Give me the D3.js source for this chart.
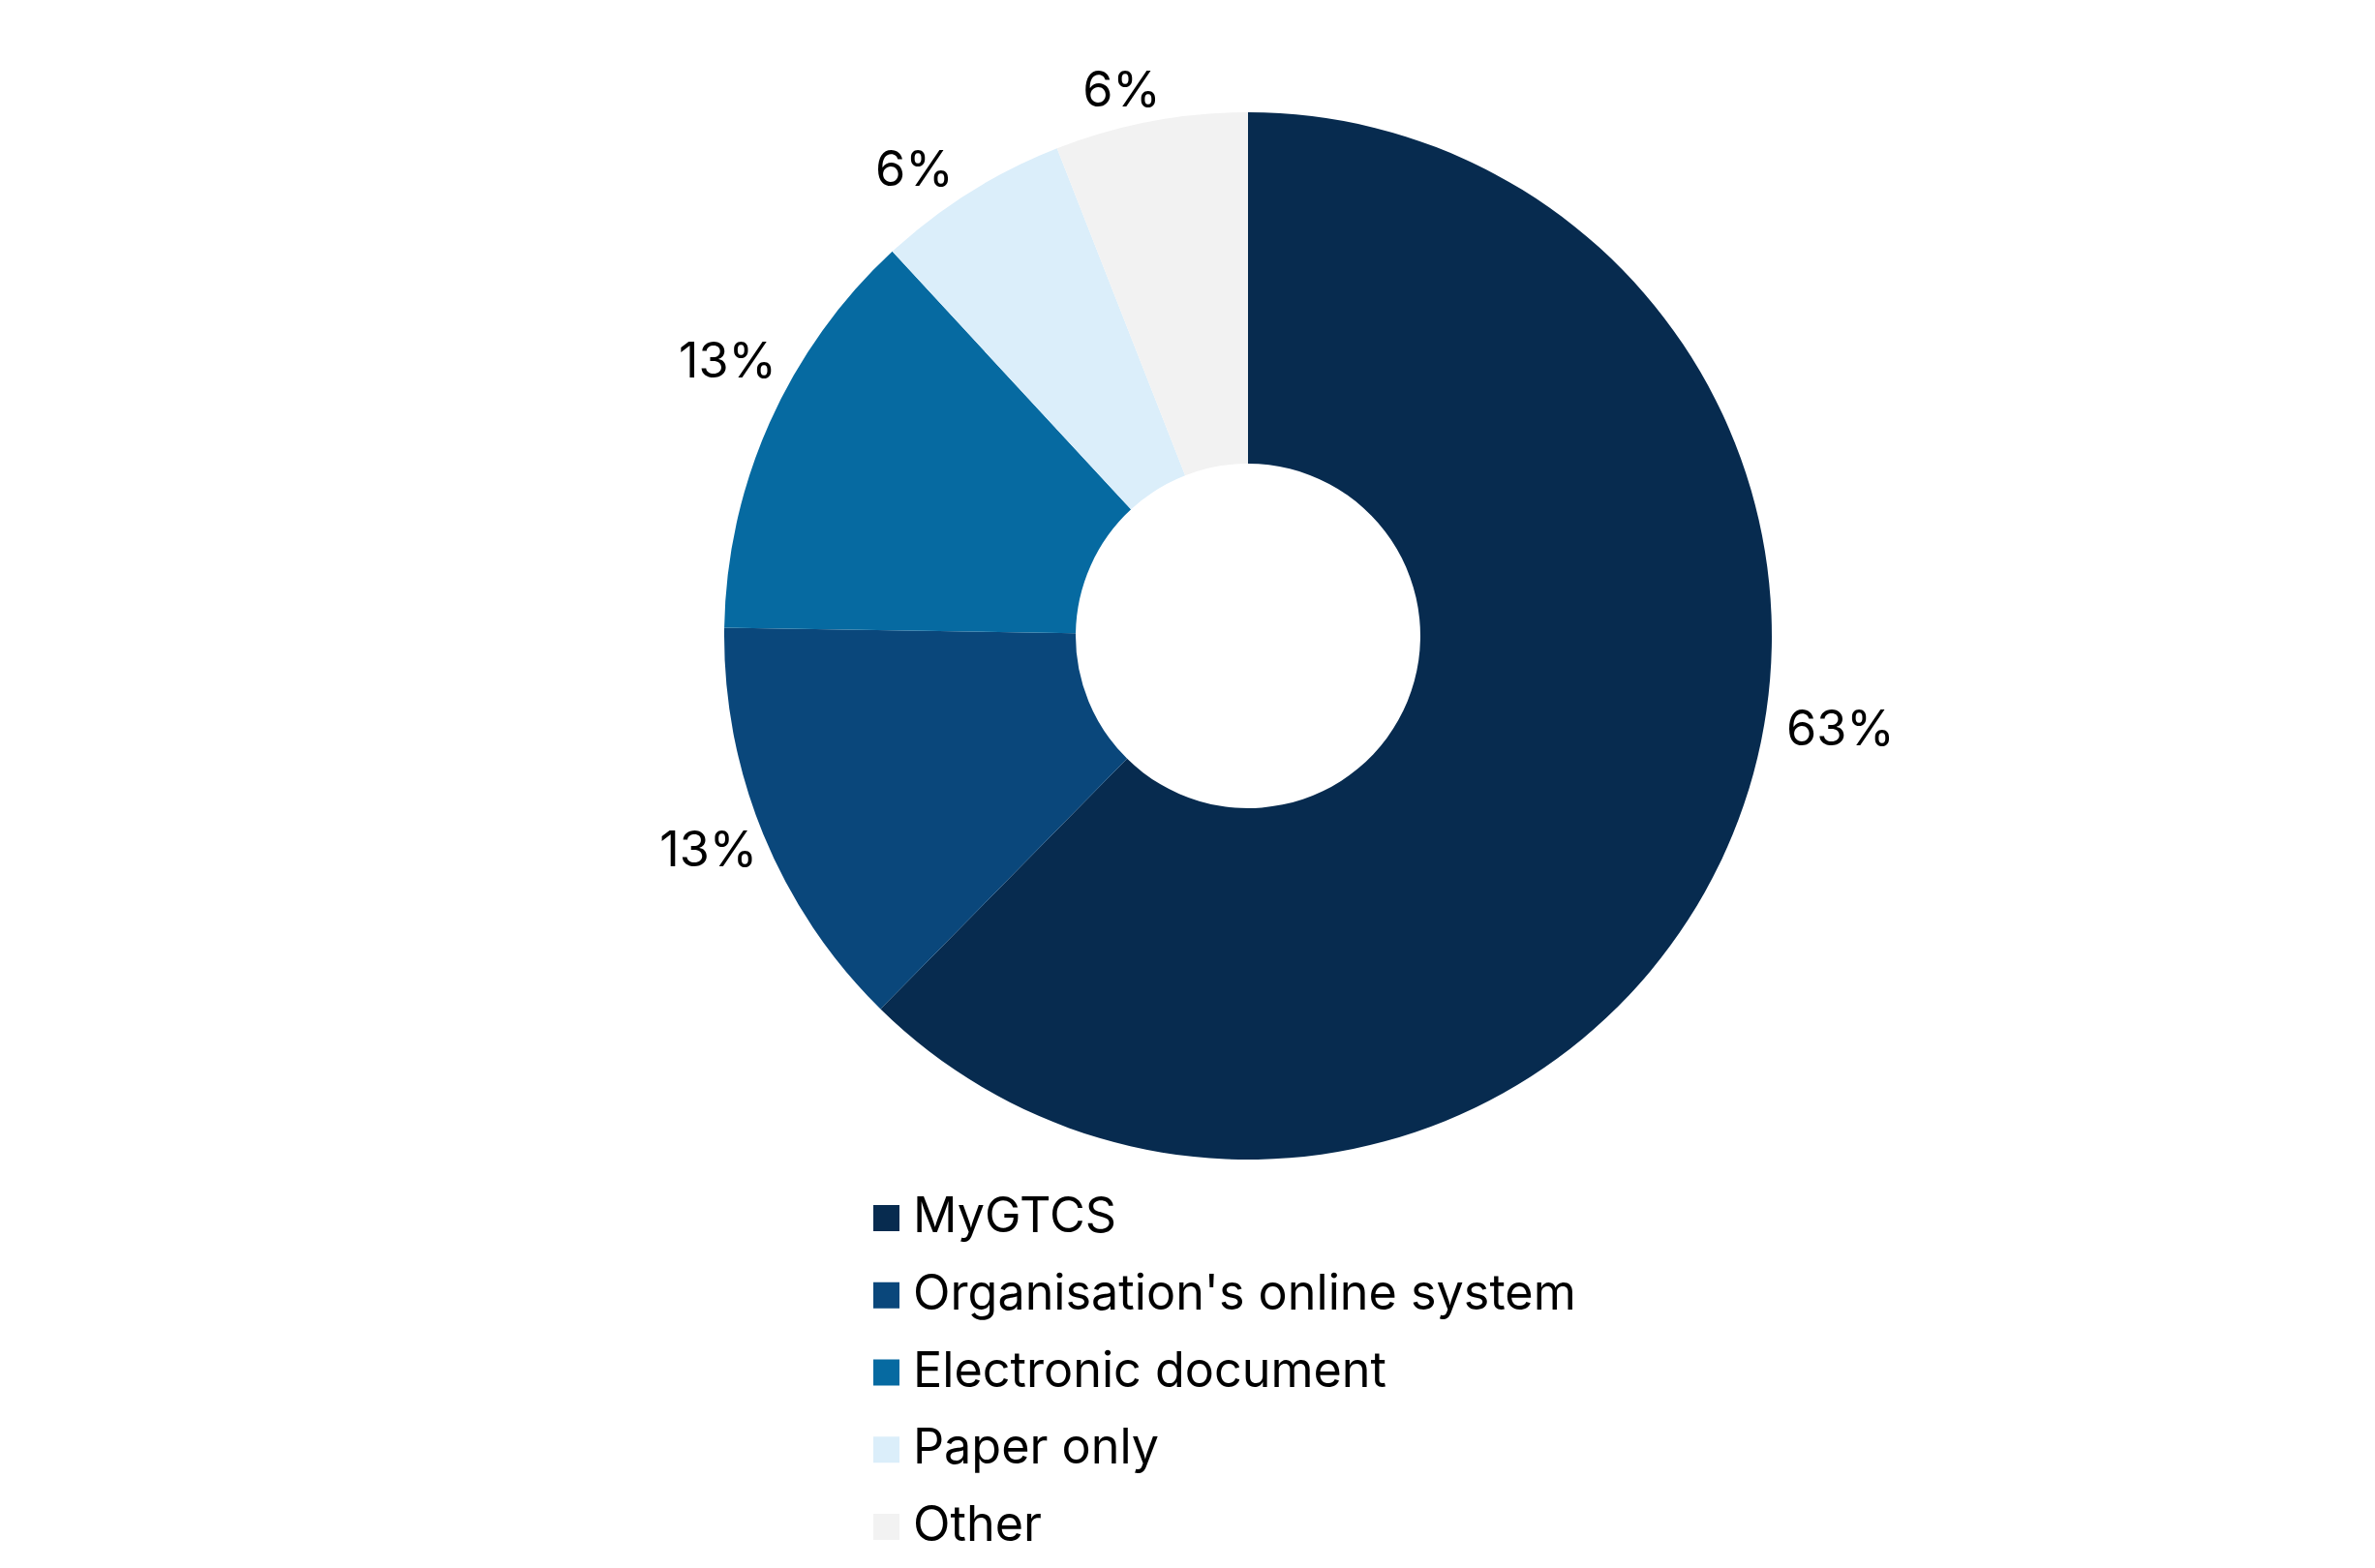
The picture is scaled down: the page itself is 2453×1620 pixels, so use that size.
<!DOCTYPE html>
<html>
<head>
<meta charset="utf-8">
<script src="https://cdn.jsdelivr.net/npm/d3@7"></script>
<style>
  html, body { margin: 0; padding: 0; background: #fff; }
  svg { display: block; font-family: Inter, "Noto Sans", sans-serif; }
</style>
</head>
<body>
<svg id="chart" width="2453" height="1620"></svg>
<script>
// data
const categories = ["MyGTCS", "Organisation's online system", "Electronic document", "Paper only", "Other"];
const shares = [63, 13, 13, 6, 6];
const sliceColors = ["#072b4f", "#0a477b", "#066aa1", "#dbeefa", "#f2f2f2"];

const width = 2453, height = 1620;
const cx = 1289, cy = 657;
const outerR = 541, innerR = 178;
const fontSize = 50.3;

const svg = d3.select("#chart");

const pie = d3.pie().sort(null).value((d) => d);
const arcData = pie(shares);
const arcGen = d3.arc().innerRadius(innerR).outerRadius(outerR);

const ring = svg.append("g").attr("transform", `translate(${cx},${cy})`);

ring.selectAll("path")
  .data(arcData)
  .join("path")
  .attr("d", arcGen)
  .attr("fill", (d, i) => sliceColors[i]);

// percent labels just outside the ring; small nudges (degrees / px) to follow the original layout
const labelNudge = [-13.5, 0.8, 3.9, -3.4, -2.3];
const labelGap = [20, 4, 14, 14, 12];
ring.selectAll("text.pct")
  .data(arcData)
  .join("text")
  .attr("class", "pct")
  .attr("text-anchor", "middle")
  .attr("dominant-baseline", "central")
  .attr("font-size", fontSize)
  .attr("fill", "#000")
  .text((d) => d.value + "%")
  .each(function (d, i) {
    const box = this.getBBox();
    const a = (d.startAngle + d.endAngle) / 2 + labelNudge[i] * Math.PI / 180;
    const s = Math.sin(a), c = -Math.cos(a);
    const ext = Math.abs(s) * box.width / 2 + Math.abs(c) * 19;
    const r = outerR + labelGap[i] + ext;
    d3.select(this).attr("x", r * s).attr("y", r * c);
  });

// legend
const legendY = d3.scalePoint().domain(categories).range([1245, 1564]);
const legend = svg.append("g").attr("class", "legend");
const rows = legend.selectAll("g")
  .data(categories)
  .join("g")
  .attr("transform", (d) => `translate(902,${legendY(d)})`);

rows.append("rect")
  .attr("width", 27)
  .attr("height", 27)
  .attr("fill", (d, i) => sliceColors[i]);

rows.append("text")
  .attr("x", 41)
  .attr("y", 28)
  .attr("font-size", fontSize)
  .attr("fill", "#000")
  .text((d) => d);
</script>
</body>
</html>
